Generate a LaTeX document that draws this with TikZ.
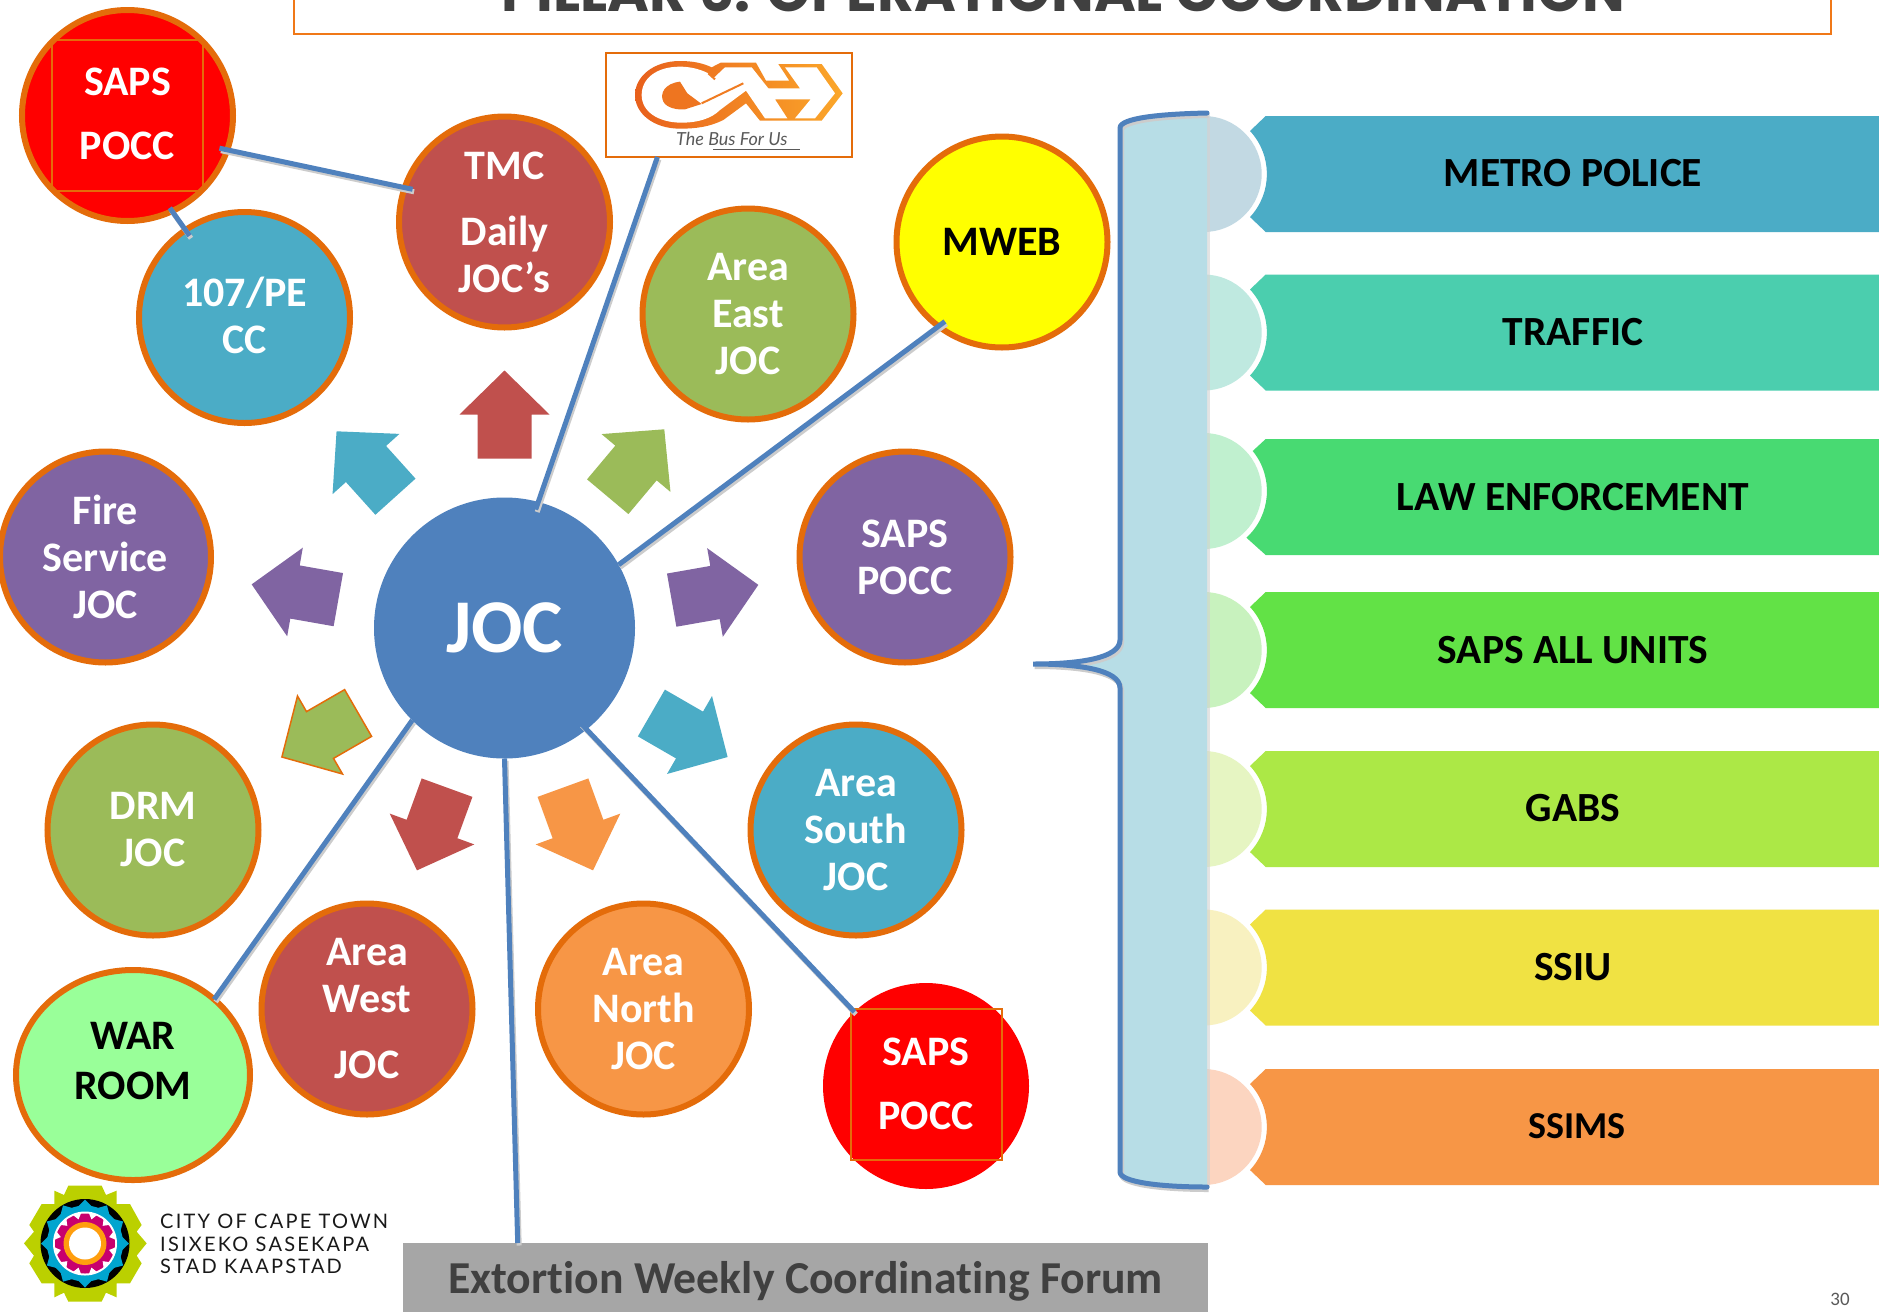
\documentclass[tikz,border=0pt]{standalone}
\usepackage{fontspec}
\setmainfont[Ligatures=NoCommon]{Carlito}
\newfontfamily\titlefont{Poppins}
\newfontfamily\cityfont[LetterSpace=11]{Lato}
\newfontfamily\logofont{Lato}
\usetikzlibrary{shapes.geometric}
\definecolor{ringo}{HTML}{E46C0A}
\definecolor{jred}{HTML}{C0504D}
\definecolor{jteal}{HTML}{4BACC6}
\definecolor{jgreen}{HTML}{9BBB59}
\definecolor{jpurple}{HTML}{8064A2}
\definecolor{jorange}{HTML}{F79646}
\definecolor{jblue}{HTML}{4F81BD}
\definecolor{warg}{HTML}{99FF99}
\definecolor{brace}{HTML}{B7DDE6}
\definecolor{titleo}{HTML}{F07818}
\definecolor{darkt}{HTML}{404040}
\definecolor{pureyellow}{HTML}{FFFF00}
\definecolor{purered}{HTML}{FF0000}
\definecolor{barB}{HTML}{4BACC6}\definecolor{palB}{HTML}{C2D9E3}
\definecolor{barC}{HTML}{4BCEAE}\definecolor{palC}{HTML}{BFE9E0}
\definecolor{barD}{HTML}{48DA72}\definecolor{palD}{HTML}{C0F0CF}
\definecolor{barE}{HTML}{62E246}\definecolor{palE}{HTML}{C8F2BE}
\definecolor{barF}{HTML}{ACE846}\definecolor{palF}{HTML}{E6F5C2}
\definecolor{barG}{HTML}{F0E243}\definecolor{palG}{HTML}{F8F1C0}
\definecolor{barH}{HTML}{F79646}\definecolor{palH}{HTML}{FCD5C0}
\definecolor{cgreen}{HTML}{BBD000}
\definecolor{cblue}{HTML}{00A5CF}
\definecolor{cmag}{HTML}{C8006E}
\definecolor{corange}{HTML}{FF9E0E}
\definecolor{gahl}{HTML}{E8601C}
\definecolor{gahr}{HTML}{FBA72A}
\tikzset{
  joccirc/.style={circle,draw=ringo,line width=6pt,minimum size=211pt,inner sep=0pt,outer sep=0pt,
     text=white,align=center,font=\fontsize{42}{47}\selectfont\bfseries},
  link/.style={draw=jblue,line width=5pt,preaction={draw=black!20,line width=5pt,transform canvas={xshift=1.5pt,yshift=-2.5pt}}},
  sq/.style={draw=ringo,line width=2pt,minimum size=151pt,inner sep=0pt,outer sep=0pt},
  barlabel/.style={font=\fontsize{41.5}{46}\selectfont\bfseries,text=black,inner sep=0pt},
  pics/blockarrow/.style={code={\path[pic actions] (-44,-27)--(0,-27)--(0,-45)--(44,0)--(0,45)--(0,27)--(-44,27)--cycle;}},
}
\begin{document}
\begin{tikzpicture}[x=1pt,y=-1pt]
\useasboundingbox (0,0) rectangle (1879,1312);
\clip (0,0) rectangle (1879,1312);
\fill[white] (0,0) rectangle (1879,1312);

% title
\node[draw=titleo,line width=2pt,minimum width=1537pt,minimum height=100pt,inner sep=0pt] (titlebox) at (1062.5,-16) {};
\node[anchor=base,inner sep=0pt,text=darkt,font=\fontsize{56.8}{60}\selectfont\titlefont\bfseries] (titletext) at (1063,11) {PILLAR 6: OPERATIONAL COORDINATION};

% right column: pale half discs and bars
\foreach \cy/\bc/\pc in {174/barB/palB,332.5/barC/palC,650/barE/palE,809/barF/palF,967.5/barG/palG,1127/barH/palH}{
  \fill[\pc] (1203.7,\cy) circle[radius=58];
  \fill[\bc] (1265.7,{\cy-58}) -- (1250,{\cy-43}) arc[start angle=-42.9,end angle=42.9,radius=63.2] -- (1265.7,{\cy+58}) -- (1879,{\cy+58}) -- (1879,{\cy-58}) -- cycle;
}
\fill[palD] (1203.7,491) circle[radius=58];
\fill[barD] (1265.7,439) -- (1252.7,451) arc[start angle=-39.2,end angle=47.5,radius=63.3] -- (1265.7,555) -- (1879,555) -- (1879,439) -- cycle;
\node[barlabel] (l1) at (1573,173) {METRO POLICE};
\node[barlabel] (l2) at (1573,332) {TRAFFIC};
\node[barlabel] (l3) at (1573,497) {LAW ENFORCEMENT};
\node[barlabel] (l4) at (1573,650) {SAPS ALL UNITS};
\node[barlabel] (l5) at (1573,808) {GABS};
\node[barlabel] (l6) at (1573,967) {SSIU};
\node[barlabel,font=\fontsize{38}{42}\selectfont\bfseries] (l7) at (1577,1126) {SSIMS};

% brace
\fill[black!18,opacity=.6] (1207,113) rectangle (1210,1188);
\fill[brace] (1207,113) .. controls (1160,114) and (1120,118) .. (1120,128) -- (1120,640)
  .. controls (1120,658) and (1080,664) .. (1033,664) .. controls (1080,664) and (1120,670) .. (1120,688)
  -- (1120,1172) .. controls (1120,1182) and (1160,1187) .. (1207,1187) -- cycle;
\draw[link,line cap=round] (1207,113) .. controls (1160,114) and (1120,118) .. (1120,128) -- (1120,640)
  .. controls (1120,658) and (1080,664) .. (1033,664) .. controls (1080,664) and (1120,670) .. (1120,688)
  -- (1120,1172) .. controls (1120,1182) and (1160,1187) .. (1207,1187);

% arrows
\pic[fill=jred,rotate=90] at (504.5,414.5) {blockarrow};
\pic[fill=jteal,rotate=132] at (366,464) {blockarrow};
\pic[fill=jgreen,rotate=50] at (636,463) {blockarrow};
\pic[fill=jpurple,rotate=170] at (295,592) {blockarrow};
\pic[fill=jpurple,rotate=10] at (715,592.5) {blockarrow};
\pic[fill=jgreen,draw=ringo,line width=1.5pt,rotate=210] at (320,735) {blockarrow};
\pic[fill=jteal,rotate=-30] at (689.5,735) {blockarrow};
\pic[fill=jred,rotate=250] at (432,829) {blockarrow};
\pic[fill=jorange,rotate=290] at (578,829) {blockarrow};

% circles
\node[joccirc,fill=purered] (sapsa) at (127.5,115.5) {};
\node[sq] (sapsasq) at (127.5,115.5) {};
\node[text=white,align=center,inner sep=0pt,font=\fontsize{42}{47}\selectfont\bfseries] (sapsat) at (127.5,114) {SAPS\\[17pt]POCC};
\node[joccirc,fill=jteal] (pe) at (244.5,317.5) {};
\node[text=white,align=center,inner sep=0pt,font=\fontsize{42}{47}\selectfont\bfseries] (pet) at (244.5,315.5) {107/PE\\CC};
\node[joccirc,fill=jred] (tmc) at (504.5,222) {TMC\\[19pt]Daily\\JOC’s};
\node[joccirc,fill=jgreen] (east) at (748,314) {Area\\East\\JOC};
\node[joccirc,fill=pureyellow,text=black] (mweb) at (1002,242) {MWEB};
\node[joccirc,fill=jpurple] (fire) at (105.5,557) {Fire\\Service\\JOC};
\node[joccirc,fill=jpurple] (sapsb) at (905,557) {SAPS\\POCC};
\node[joccirc,fill=jgreen] (drm) at (153,830) {DRM\\JOC};
\node[joccirc,fill=jteal] (south) at (856,830) {Area\\South\\JOC};
\node[joccirc,fill=jred] (west) at (367,1009) {Area\\West\\[19pt]JOC};
\node[joccirc,fill=jorange] (north) at (643.5,1009) {Area\\North\\JOC};
\node[ellipse,draw=ringo,fill=warg,line width=6pt,minimum width=234pt,minimum height=210pt,inner sep=0pt,outer sep=0pt] (war) at (133,1075) {};
\node[align=center,inner sep=0pt,font=\fontsize{42}{50}\selectfont\bfseries] (wart) at (133,1061) {WAR\\ROOM};
\node[circle,fill=purered,minimum size=206pt,inner sep=0pt,outer sep=0pt] (sapsc) at (926,1086) {};
\node[sq] (sapscsq) at (926.5,1084.5) {};
\node[text=white,align=center,inner sep=0pt,font=\fontsize{42}{47}\selectfont\bfseries] (sapsct) at (926,1084) {SAPS\\[17pt]POCC};
\node[circle,fill=jblue,minimum size=261pt,inner sep=0pt,outer sep=0pt,text=white,font=\fontsize{76}{80}\selectfont\bfseries] (joc) at (504.5,628) {JOC};

% GAH logo box
\node[draw=ringo,line width=2pt,fill=white,minimum width=246pt,minimum height=104pt,inner sep=0pt,outer sep=0pt] (gah) at (729,105) {};
\begin{scope}[shift={(600,50)},x=.3333pt,y=-.3333pt]
  \shade[left color=gahl,right color=gahr] (240,33) .. controls (280,33) and (310,40) .. (335,52) -- (362,38) -- (468,38) -- (498,92) -- (568,92) -- (535,42) -- (665,42) -- (728,130) -- (665,212) -- (480,212) -- (438,160) -- (370,210) .. controls (330,230) and (290,236) .. (240,236) .. controls (160,236) and (105,190) .. (105,135) .. controls (105,80) and (160,33) .. (240,33) -- cycle;
  \fill[white] (325,70) .. controls (295,55) and (265,50) .. (240,50) .. controls (170,50) and (125,85) .. (125,135) .. controls (125,185) and (175,218) .. (245,218) .. controls (295,218) and (335,205) .. (360,180) -- (438,122) -- (495,205) -- (562,205) -- (525,148) -- (632,148) -- (585,205) -- (645,205) -- (705,130) -- (650,52) -- (555,52) -- (600,115) -- (505,115) -- (455,52) -- (375,52) -- (340,85) -- cycle;
  \fill[gahl!70!gahr] (240,95) .. controls (195,100) and (178,130) .. (190,155) .. controls (200,175) and (235,180) .. (255,178) -- (305,162) -- (262,130) -- cycle;
  \draw[gahl!60!gahr,line width=2pt] (305,160) -- (430,100);
  \draw[gahl!60!gahr,line width=2pt] (325,70) -- (345,88);
\end{scope}
\node[inner sep=0pt,anchor=base west,text=black!65,font=\fontsize{18}{20}\selectfont\logofont\itshape] (gahtext) at (676,145) {The Bus For Us};
\coordinate (ula) at (713,149); \coordinate (ulb) at (800,149);
\draw[black!65,line width=1pt] (ula) -- (ulb);

% forum
\node[fill=black!35,minimum width=805pt,minimum height=69pt,inner sep=0pt,outer sep=0pt] (forum) at (805.5,1277.5) {};
\node[inner sep=0pt,text=darkt,font=\fontsize{45.7}{48}\selectfont\bfseries] (forumt) at (805.5,1281) {Extortion Weekly Coordinating Forum};
\coordinate (forumtop) at (517.7,1243);

% connectors
\draw[link,shorten <=-8pt] (joc.75) -- (gah.216);
\draw[link,shorten >=-8pt] (joc.29.5) -- (mweb.233);
\draw[link,shorten <=-9pt] (joc.-51.4) -- (sapsc.134);
\draw[link] (joc.-90) -- (forumtop);
\draw[link] (joc.225) -- (war.43);
\draw[link,shorten <=-8pt,shorten >=-8pt] (sapsa.-19.4) -- (tmc.161.5);
\draw[link,shorten <=-4pt,shorten >=-7pt] (sapsa.-65.3) -- (pe.124.7);

% city logo
\begin{scope}[shift={(0,1160)},x=.3333pt,y=-.3333pt]
  \fill[cgreen] (205,77)--(305,77)--(318,105)--(350,92)--(350,132)--(390,132)--(425,195)--(410,215)--(440,250)--(410,287)--(425,310)--(390,370)--(350,370)--(350,412)--(318,398)--(305,425)--(205,425)--(192,398)--(163,412)--(163,370)--(125,370)--(88,310)--(102,287)--(72,250)--(102,215)--(88,195)--(125,132)--(163,132)--(163,92)--(192,105)--cycle;
\end{scope}
\fill[black] (85,1243.5) circle[radius=44.5];
\fill[cblue] (85,1243.5) circle[radius=38];
\foreach \a in {0,30,...,330}{
  \fill[cblue] ({85+37*cos(\a-12)},{1243.5+37*sin(\a-12)}) -- ({85+44*cos(\a)},{1243.5+44*sin(\a)}) -- ({85+37*cos(\a+12)},{1243.5+37*sin(\a+12)}) -- cycle;
}
\fill[white] (85,1243.5) circle[radius=32];
\fill[cmag] (85,1243.5) circle[radius=30];
\foreach \a in {15,45,...,345}{
  \fill[white] ({85+31*cos(\a-8)},{1243.5+31*sin(\a-8)}) -- ({85+25*cos(\a)},{1243.5+25*sin(\a)}) -- ({85+31*cos(\a+8)},{1243.5+31*sin(\a+8)}) -- cycle;
}
\fill[corange] (85,1243.5) circle[radius=21.5];
\fill[white] (85,1243.5) circle[radius=16];
\node[anchor=base west,inner sep=0pt,text=black!90,font=\fontsize{20}{22}\selectfont\cityfont] (city1) at (160,1228) {CITY OF CAPE TOWN};
\node[anchor=base west,inner sep=0pt,text=black!90,font=\fontsize{20}{22}\selectfont\cityfont] (city2) at (160,1251) {ISIXEKO SASEKAPA};
\node[anchor=base west,inner sep=0pt,text=black!90,font=\fontsize{20}{22}\selectfont\cityfont] (city3) at (160,1273) {STAD KAAPSTAD};

% page number
\node[inner sep=0pt,text=black!65,font=\fontsize{19}{20}\selectfont] (pageno) at (1840,1299) {30};
\end{tikzpicture}
\end{document}
